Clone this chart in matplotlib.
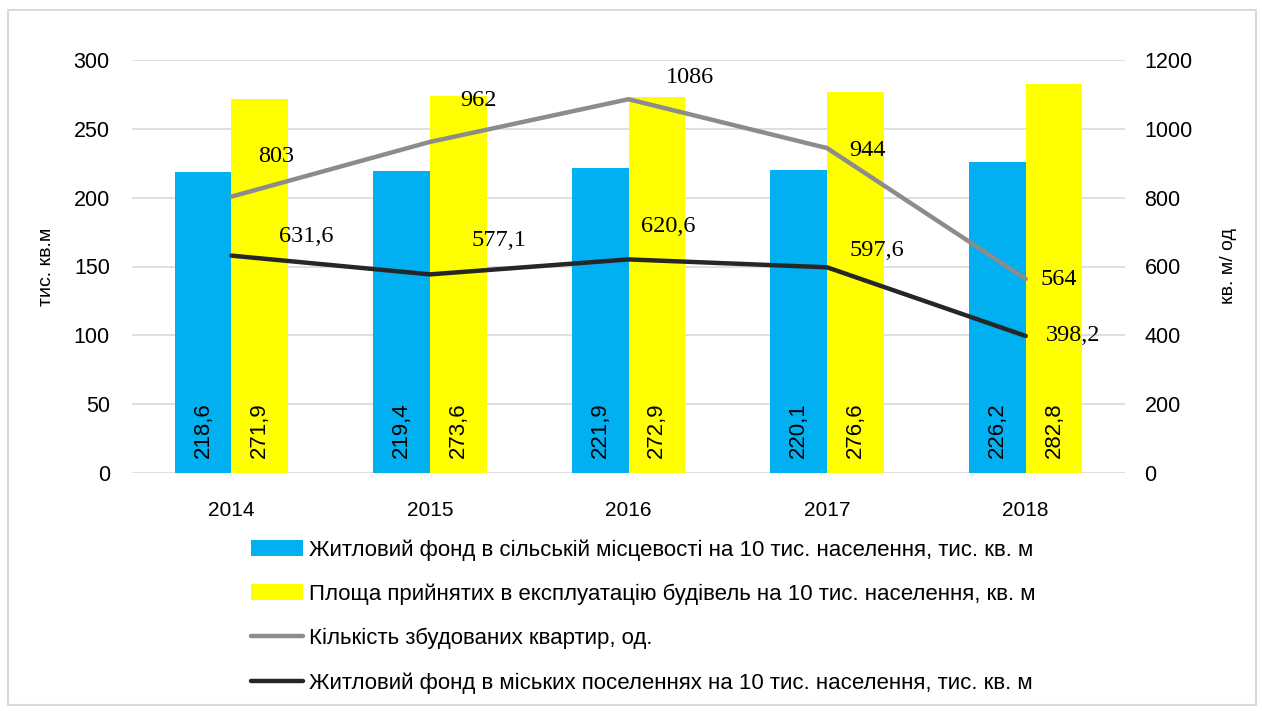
import matplotlib
matplotlib.use("Agg")
import matplotlib.pyplot as plt
import numpy as np
from matplotlib.patches import Rectangle

years = ['2014', '2015', '2016', '2017', '2018']
rural = [218.6, 219.4, 221.9, 220.1, 226.2]
commissioned = [271.9, 273.6, 272.9, 276.6, 282.8]
flats = [803, 962, 1086, 944, 564]
urban = [631.6, 577.1, 620.6, 597.6, 398.2]

rural_lbl = ['218,6', '219,4', '221,9', '220,1', '226,2']
comm_lbl = ['271,9', '273,6', '272,9', '276,6', '282,8']
flats_lbl = ['803', '962', '1086', '944', '564']
urban_lbl = ['631,6', '577,1', '620,6', '597,6', '398,2']

names = ['Житловий фонд в сільській місцевості на 10 тис. населення, тис. кв. м',
         'Площа прийнятих в експлуатацію будівель на 10 тис. населення, кв. м',
         'Кількість збудованих квартир, од.',
         'Житловий фонд в міських поселеннях на 10 тис. населення, тис. кв. м']

# label offsets in pixels (left edge of text, vertical centre)
flats_off = [(27, 40), (30, 41), (37, 22), (22, -2), (15, -1)]
urban_off = [(48, 19), (42, 34), (13, 33), (22, 17), (20, 0)]

sans = ['Liberation Sans', 'DejaVu Sans']
serif = ['Liberation Serif', 'DejaVu Serif']
plt.rcParams['font.family'] = sans

fig = plt.figure(figsize=(12.62, 7.11), dpi=100)
fig.patches.append(Rectangle((8 / 1262, 6 / 711), 1248 / 1262, 695 / 711,
                             transform=fig.transFigure, fill=False,
                             edgecolor='#d9d9d9', linewidth=1.5))
ax = fig.add_axes([132 / 1262, 1 - 473 / 711, 993 / 1262, 413 / 711])
ax2 = ax.twinx()

x = np.arange(len(years))
w = 0.285
ax.bar(x - w / 2, rural, w, color='#00b0f0', label=names[0], zorder=2)
ax.bar(x + w / 2, commissioned, w, color='#ffff00', label=names[1], zorder=2)

for i in range(len(years)):
    ax.annotate(rural_lbl[i], (x[i] - w / 2, 0), xytext=(0, 15), textcoords='offset pixels',
                rotation=90, ha='center', va='bottom', fontsize=16, zorder=3)
    ax.annotate(comm_lbl[i], (x[i] + w / 2, 0), xytext=(0, 15), textcoords='offset pixels',
                rotation=90, ha='center', va='bottom', fontsize=16, zorder=3)

l1, = ax2.plot(x, flats, color='#8c8c8c', lw=3.2, label=names[2], solid_capstyle='round')
l2, = ax2.plot(x, urban, color='#262626', lw=3.2, label=names[3], solid_capstyle='round')

for i in range(len(years)):
    ax2.annotate(flats_lbl[i], (x[i], flats[i]), xytext=flats_off[i], textcoords='offset pixels',
                 ha='left', va='center', fontsize=17.5, family=serif)
    ax2.annotate(urban_lbl[i], (x[i], urban[i]), xytext=urban_off[i], textcoords='offset pixels',
                 ha='left', va='center', fontsize=17.5, family=serif)

ax.set_xlim(-0.5, len(years) - 0.5)
ax.set_ylim(0, 300)
ax.set_yticks(range(0, 301, 50))
ax2.set_ylim(0, 1200)
ax2.set_yticks(range(0, 1201, 200))
ax.set_xticks(x)
ax.set_xticklabels(years)

ax.grid(axis='y', color='#d9d9d9', linewidth=1.2, zorder=0)
ax.set_axisbelow(True)
for a in (ax, ax2):
    for s in a.spines.values():
        s.set_visible(False)
    a.tick_params(length=0, labelsize=15.5, colors='#000000')
ax.tick_params(axis='y', pad=16)
ax.tick_params(axis='x', pad=20, labelsize=15)
ax2.tick_params(axis='y', pad=14)

ax.set_ylabel('тис. кв.м', fontsize=14)
ax2.set_ylabel('кв. м/ од', fontsize=14)
ax.yaxis.set_label_coords(-0.0776, 0.5)
ax2.yaxis.set_label_coords(1.0957, 0.5)

handles = ax.get_legend_handles_labels()[0] + [l1, l2]
leg = fig.legend(handles, names, loc='upper left', bbox_to_anchor=(240 / 1262, 1 - 528 / 711),
                 frameon=False, fontsize=16, labelspacing=1.03, handlelength=2.34,
                 handleheight=0.7, handletextpad=0.27, borderpad=0)

fig.savefig('out.png', dpi=100)
